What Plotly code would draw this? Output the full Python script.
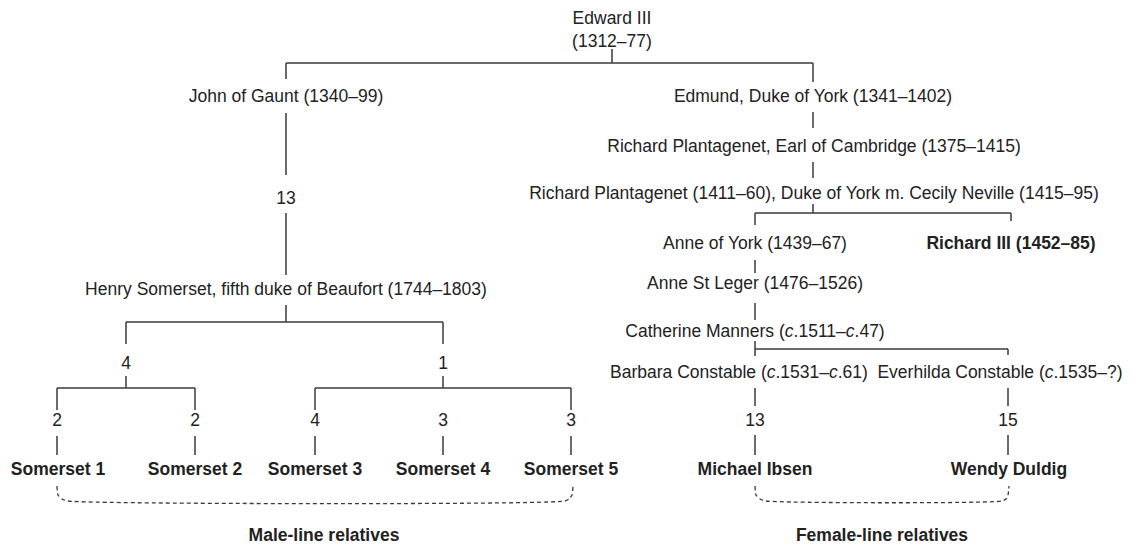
import plotly.graph_objects as go

# ---------------- data ----------------
people = [
    "Edward III<br>(1312–77)",
    "John of Gaunt (1340–99)",
    "Edmund, Duke of York (1341–1402)",
    "Richard Plantagenet, Earl of Cambridge (1375–1415)",
    "Richard Plantagenet (1411–60), Duke of York m. Cecily Neville (1415–95)",
    "Anne of York (1439–67)",
    "Anne St Leger (1476–1526)",
    "Catherine Manners (<i>c</i>.1511–<i>c</i>.47)",
    "Barbara Constable (<i>c</i>.1531–<i>c</i>.61)",
    "Everhilda Constable (<i>c</i>.1535–?)",
    "Henry Somerset, fifth duke of Beaufort (1744–1803)",
]
bold_people = [
    "Richard III (1452–85)",
    "Somerset 1", "Somerset 2", "Somerset 3", "Somerset 4", "Somerset 5",
    "Michael Ibsen", "Wendy Duldig",
]
generations = ["13", "4", "1", "2", "2", "4", "3", "3", "13", "15"]
group_titles = ["Male-line relatives", "Female-line relatives"]

# ---------------- layout positions (pixel-like coordinates) ----------------
people_x = [612, 286, 813, 814, 814, 755, 755, 755, 739, 1000, 286]
people_y = [31, 98, 98, 148, 195, 245, 285, 333, 374, 374, 291]
bold_x = [1011, 58, 195, 315, 443, 571, 755, 1009]
bold_y = [245, 471, 471, 471, 471, 471, 471, 471]
gen_x = [286, 126, 443, 57, 195, 315, 443, 571, 755, 1008]
gen_y = [200, 365, 365, 422, 422, 422, 422, 422, 422, 422]
title_x = [324, 882]
title_y = [537, 537]

# connector segments: (x0, y0, x1, y1)
segments = [
    (612, 49, 612, 63), (286, 63, 813, 63), (286, 63, 286, 79), (813, 63, 813, 82),
    (286, 113, 286, 175), (286, 213, 286, 275),
    (286, 305, 286, 322), (126, 322, 443, 322), (126, 322, 126, 344), (443, 322, 443, 344),
    (126, 376, 126, 388), (57, 388, 195, 388), (57, 388, 57, 410), (195, 388, 195, 410),
    (443, 376, 443, 388), (315, 388, 571, 388), (315, 388, 315, 410), (571, 388, 571, 410),
    (57, 436, 57, 455), (195, 436, 195, 455), (315, 436, 315, 455),
    (443, 436, 443, 455), (571, 436, 571, 455),
    (813, 112, 813, 128), (813, 162, 813, 178), (813, 204, 813, 213),
    (755, 213, 1011, 213), (755, 213, 755, 225), (1011, 213, 1011, 221),
    (755, 260, 755, 273), (755, 303, 755, 320),
    (755, 341, 755, 356), (755, 349, 1008, 349), (1008, 349, 1008, 355),
    (755, 388, 755, 406), (1008, 388, 1008, 406),
    (755, 435, 755, 455), (1008, 435, 1008, 455),
]
brackets = [
    ([57, 58, 62, 68, 565, 569, 572, 573], [486, 495, 499, 501, 501, 499, 495, 486]),
    ([755, 756, 760, 766, 1002, 1006, 1008, 1009], [486, 495, 499, 501, 501, 499, 495, 486]),
]

FONT = "Liberation Sans, Arial, Helvetica, sans-serif"
TXT = "#222222"
LINE = "#3a3a3a"
FS = 17.5
PAGE_OFFSET = 8  # browser body margin
W, H = 1134, 546

fig = go.Figure()

lx, ly = [], []
for x0, y0, x1, y1 in segments:
    lx += [x0, x1, None]
    ly += [y0, y1, None]
fig.add_trace(go.Scatter(x=lx, y=ly, mode="lines",
                         line=dict(color=LINE, width=1.5), hoverinfo="skip"))

for bx, by in brackets:
    fig.add_trace(go.Scatter(x=bx, y=by, mode="lines",
                             line=dict(color=LINE, width=1.3, dash="4px,3px", shape="spline", smoothing=0.6),
                             hoverinfo="skip"))

fig.add_trace(go.Scatter(x=people_x, y=people_y, mode="text", text=people,
                         textposition="middle center", cliponaxis=False,
                         textfont=dict(family=FONT, size=FS, color=TXT)))
fig.add_trace(go.Scatter(x=bold_x, y=bold_y, mode="text",
                         text=[f"<b>{t}</b>" for t in bold_people],
                         textposition="middle center", cliponaxis=False,
                         textfont=dict(family=FONT, size=FS, color=TXT)))
fig.add_trace(go.Scatter(x=gen_x, y=gen_y, mode="text", text=generations,
                         textposition="middle center", cliponaxis=False,
                         textfont=dict(family=FONT, size=FS, color=TXT)))
fig.add_trace(go.Scatter(x=title_x, y=title_y, mode="text",
                         text=[f"<b>{t}</b>" for t in group_titles],
                         textposition="middle center", cliponaxis=False,
                         textfont=dict(family=FONT, size=FS, color=TXT)))

fig.update_layout(
    width=W - PAGE_OFFSET, height=H - PAGE_OFFSET,
    margin=dict(l=0, r=0, t=0, b=0),
    paper_bgcolor="white", plot_bgcolor="white",
    showlegend=False,
    xaxis=dict(range=[PAGE_OFFSET, W], visible=False, fixedrange=True),
    yaxis=dict(range=[H, PAGE_OFFSET], visible=False, fixedrange=True),
)

fig.write_html("out.html")
